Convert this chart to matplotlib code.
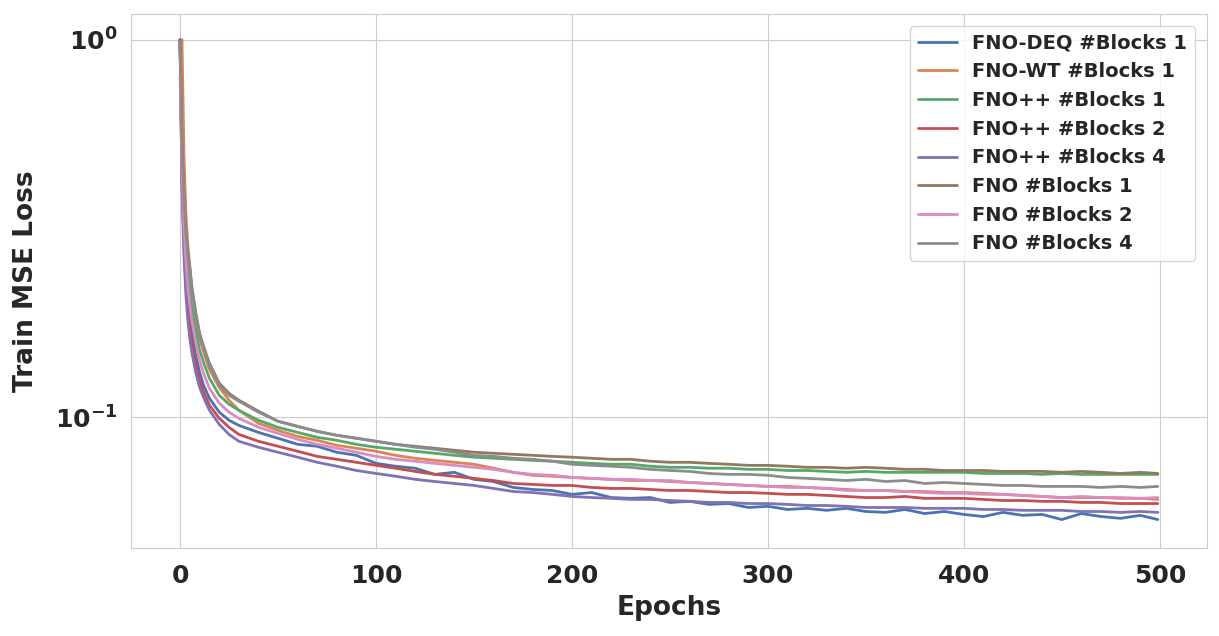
import matplotlib
matplotlib.use("Agg")
import matplotlib.pyplot as plt
import seaborn as sns
import numpy as np

epochs = [0, 1, 2, 3, 4, 5, 6, 8, 10, 12, 15, 20, 25, 30, 40] + list(range(50, 500, 10)) + [499]

fno_deq_1 = [1.0, .438, .304, .238, .2043, .1830, .1670, .1460, .1316, .1216, .1123, .1032, .0982, .0952, .0912,
             .0880, .0848, .0838, .0808, .0793, .0755, .0742, .0733, .0706, .0715, .0685, .0676, .0652, .0644, .0640,
             .0625, .0632, .0613, .0610, .0613, .0595, .0599, .0588, .0591, .0577, .0581, .0570, .0574, .0567, .0574,
             .0563, .0560, .0570, .0556, .0563, .0553, .0546, .0560, .0550, .0553, .0536, .0556, .0546, .0540, .0550,
             .0536]
fno_wt_1 = [.93, 1.0, .50, .345, .285, .250, .222, .187, .1620, .1490, .1340, .1200, .1110, .1044, .0964,
            .0924, .0890, .0869, .0843, .0828, .0813, .0793, .0779, .0769, .0760, .0751, .0733, .0715, .0702, .0698,
            .0693, .0689, .0685, .0680, .0680, .0676, .0672, .0668, .0664, .0660, .0656, .0656, .0652, .0648, .0644,
            .0640, .0640, .0636, .0636, .0632, .0632, .0629, .0625, .0621, .0617, .0613, .0613, .0613, .0610, .0610,
            .0606]
fnopp_1 = [.988, .481, .343, .277, .238, .2146, .1945, .1701, .1506, .1399, .1269, .1144, .1083, .1044, .0982,
           .0941, .0912, .0885, .0869, .0848, .0833, .0823, .0813, .0803, .0793, .0784, .0779, .0774, .0769, .0765,
           .0760, .0755, .0751, .0751, .0742, .0737, .0737, .0733, .0733, .0728, .0728, .0723, .0723, .0719, .0715,
           .0719, .0715, .0715, .0715, .0715, .0715, .0710, .0710, .0710, .0706, .0710, .0706, .0706, .0706, .0706,
           .0706]
fnopp_2 = [1.0, .425, .286, .224, .1922, .1722, .1571, .1382, .1253, .1165, .1077, .0994, .0941, .0901, .0864,
           .0838, .0813, .0788, .0774, .0760, .0746, .0733, .0719, .0706, .0698, .0689, .0680, .0668, .0664, .0660,
           .0660, .0652, .0648, .0648, .0644, .0640, .0640, .0636, .0632, .0632, .0629, .0625, .0625, .0621, .0617,
           .0613, .0613, .0617, .0610, .0610, .0610, .0606, .0602, .0602, .0599, .0599, .0595, .0595, .0591, .0591,
           .0591]
fnopp_4 = [1.0, .400, .269, .2107, .1808, .1620, .1487, .1316, .1201, .1130, .1044, .0958, .0901, .0864, .0833,
           .0808, .0784, .0760, .0742, .0723, .0710, .0698, .0685, .0676, .0668, .0660, .0648, .0636, .0632, .0625,
           .0617, .0613, .0610, .0606, .0606, .0602, .0599, .0595, .0595, .0591, .0591, .0588, .0584, .0584, .0581,
           .0577, .0577, .0577, .0574, .0574, .0574, .0570, .0570, .0567, .0567, .0567, .0563, .0563, .0560, .0563,
           .0560]
fno_1 = [1.0, .527, .388, .313, .274, .250, .2212, .1899, .1670, .1543, .1390, .1231, .1158, .1110, .1038,
         .0976, .0946, .0918, .0896, .0880, .0864, .0848, .0838, .0828, .0818, .0808, .0803, .0798, .0793, .0788,
         .0784, .0779, .0774, .0774, .0765, .0760, .0760, .0755, .0751, .0746, .0746, .0742, .0737, .0737, .0733,
         .0737, .0733, .0728, .0728, .0723, .0723, .0723, .0719, .0719, .0719, .0715, .0719, .0715, .0710, .0715,
         .0710]
fno_2 = [.798, .452, .323, .258, .2199, .1982, .1808, .1581, .1416, .1308, .1193, .1090, .1032, .0994, .0941,
         .0907, .0874, .0848, .0828, .0808, .0788, .0774, .0765, .0755, .0746, .0737, .0728, .0715, .0706, .0702,
         .0693, .0689, .0685, .0685, .0680, .0680, .0672, .0668, .0664, .0660, .0656, .0652, .0652, .0648, .0640,
         .0640, .0640, .0636, .0632, .0629, .0629, .0625, .0625, .0621, .0617, .0613, .0617, .0613, .0613, .0610,
         .0613]
fno_4 = [.99, .511, .376, .304, .269, .2454, .2172, .1864, .1650, .1524, .1373, .1216, .1144, .1103, .1032,
         .0976, .0946, .0918, .0896, .0880, .0864, .0848, .0833, .0823, .0808, .0793, .0788, .0779, .0774, .0765,
         .0751, .0746, .0742, .0737, .0728, .0723, .0719, .0710, .0706, .0706, .0702, .0693, .0689, .0685, .0680,
         .0685, .0676, .0680, .0668, .0672, .0668, .0664, .0660, .0660, .0656, .0656, .0656, .0652, .0656, .0652,
         .0656]

labels = ["FNO-DEQ #Blocks 1", "FNO-WT #Blocks 1", "FNO++ #Blocks 1", "FNO++ #Blocks 2",
          "FNO++ #Blocks 4", "FNO #Blocks 1", "FNO #Blocks 2", "FNO #Blocks 4"]
series = [fno_deq_1, fno_wt_1, fnopp_1, fnopp_2, fnopp_4, fno_1, fno_2, fno_4]

sns.set_style("whitegrid")
plt.rcParams['font.family'] = ['DejaVu Sans']
plt.rcParams['font.weight'] = 'bold'
plt.rcParams['axes.labelweight'] = 'bold'

colors = sns.color_palette("deep", 8)

fig = plt.figure(figsize=(12.19, 6.36), dpi=100)
ax = fig.add_axes([0.1075, 0.138, 0.8825, 0.84])

for vals, lab, c in zip(series, labels, colors):
    ax.plot(epochs, vals, color=c, linewidth=2, label=lab)

ax.set_yscale('log')
ax.set_ylim(0.045, 1.17)
ax.set_xlim(-25, 524)
ax.set_xticks([0, 100, 200, 300, 400, 500])
ax.tick_params(axis='x', which='major', labelsize=18, pad=8)
ax.tick_params(axis='y', which='major', labelsize=18, pad=6)
ax.tick_params(axis='y', which='minor', length=0)
for t in ax.get_xticklabels() + ax.get_yticklabels():
    t.set_fontweight('bold')

ax.set_xlabel("Epochs", fontsize=19, fontweight='bold', labelpad=5)
ax.set_ylabel("Train MSE Loss", fontsize=19, fontweight='bold', labelpad=12)

leg = ax.legend(loc='upper right', prop={'size': 14, 'weight': 'bold'}, frameon=True,
                labelspacing=0.5, borderaxespad=0.6)

fig.savefig("out.png", dpi=100)
